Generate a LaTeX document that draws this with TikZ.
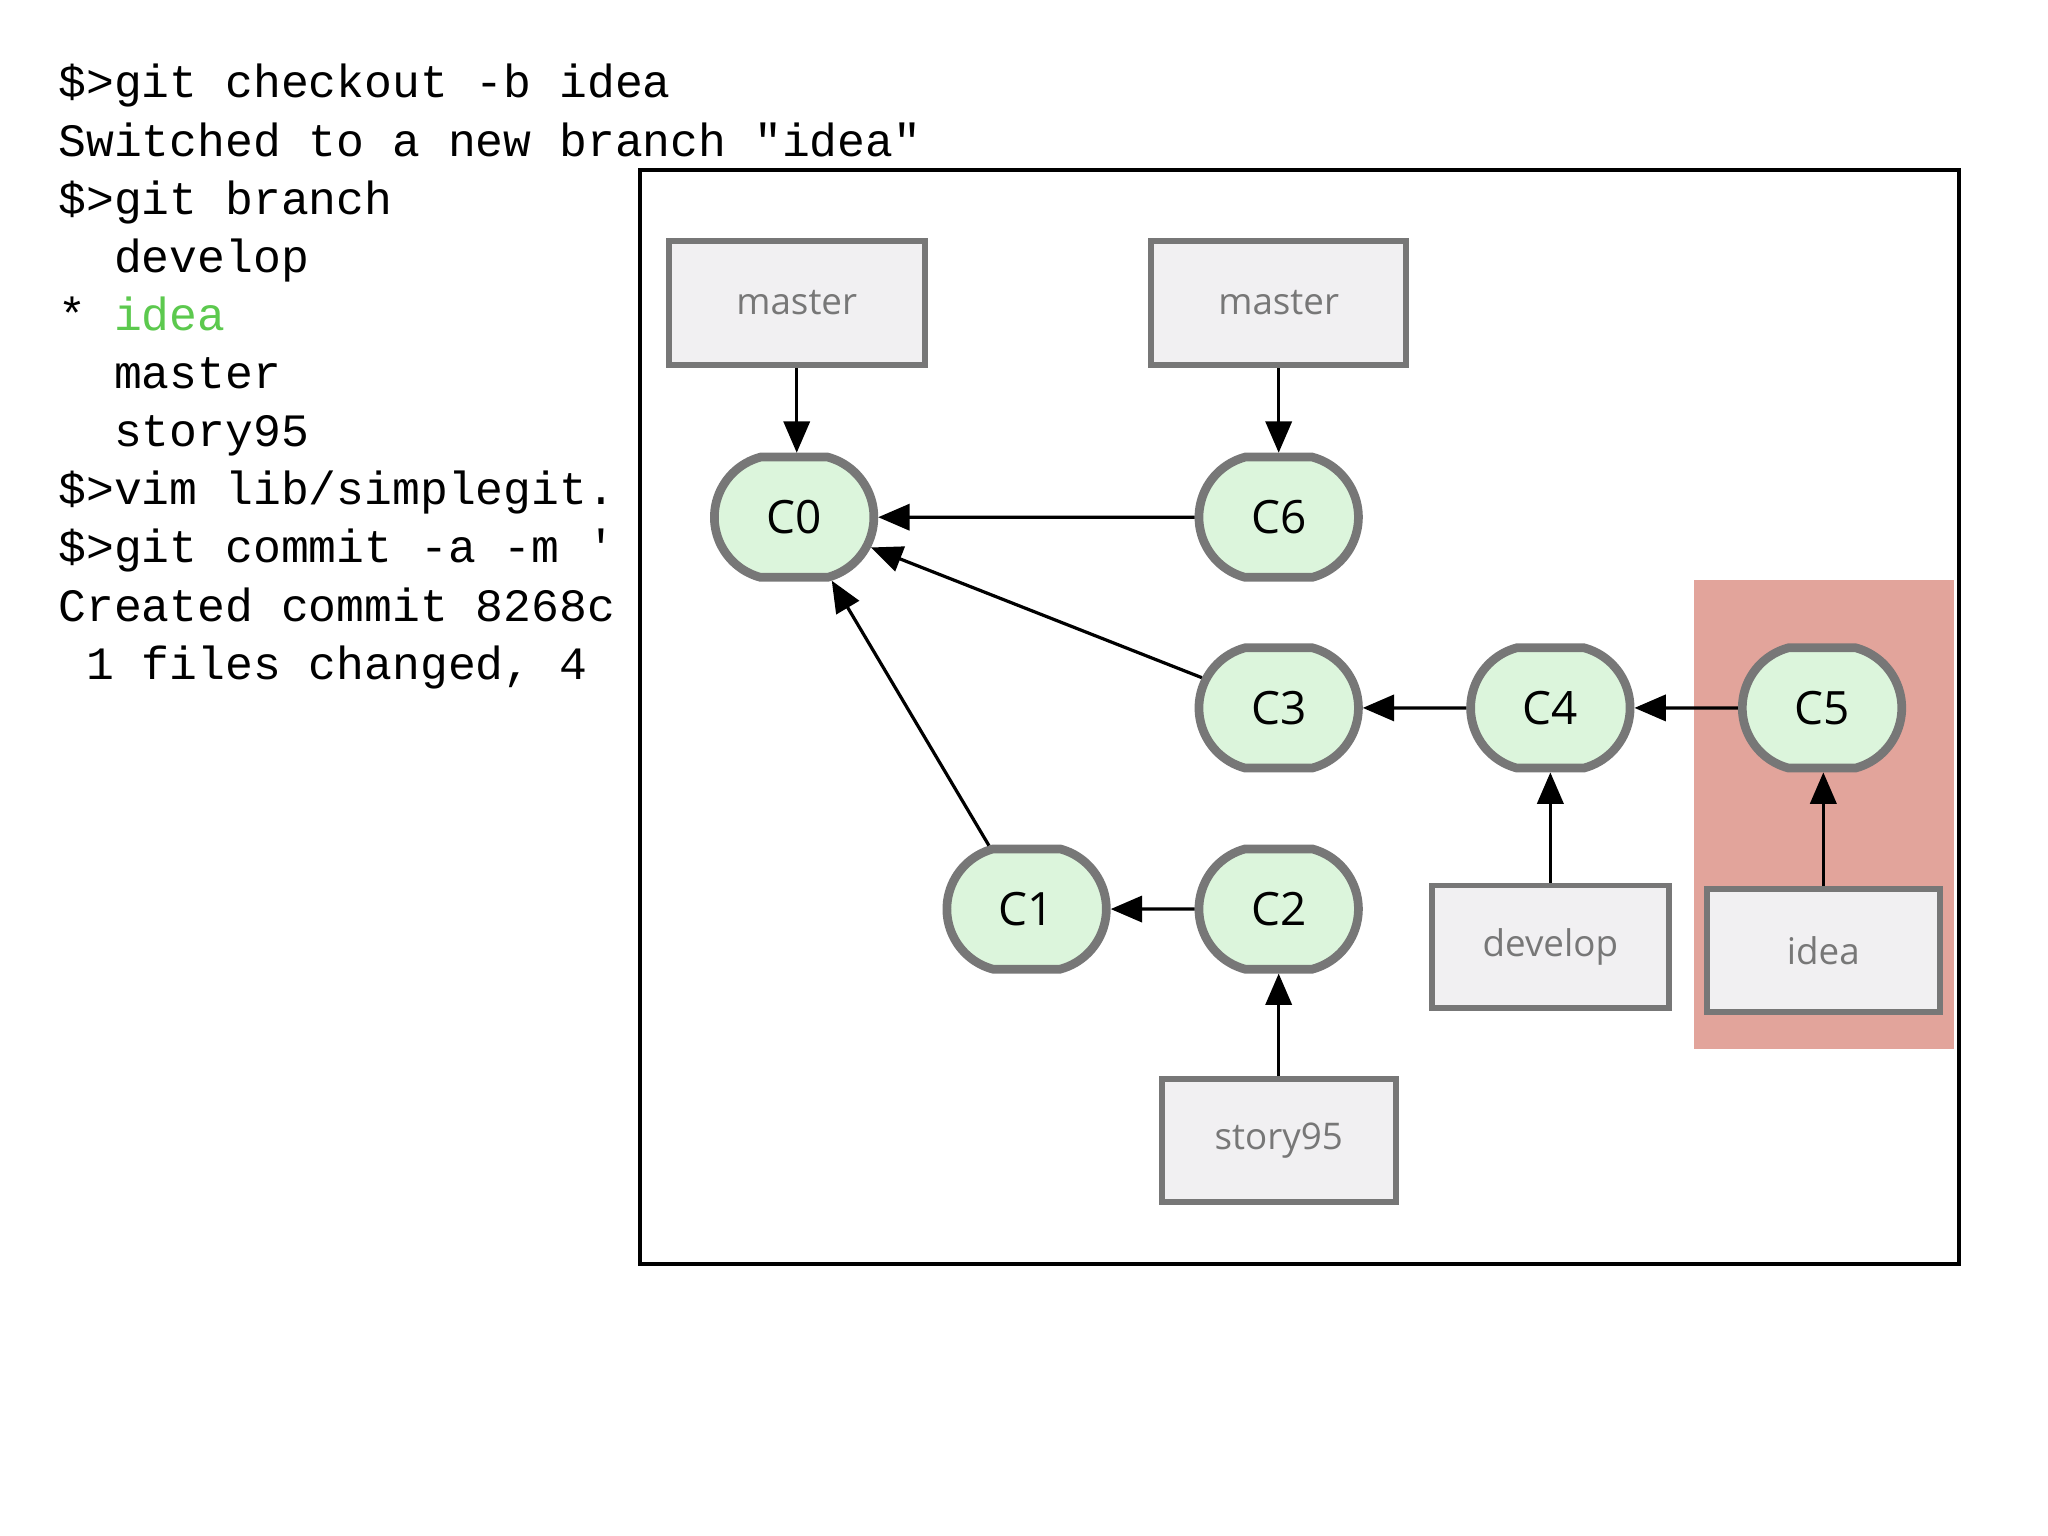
\documentclass[tikz,border=0pt]{standalone}
\usepackage{fontspec}
\setmainfont{Open Sans}
\newfontfamily\mono{Liberation Mono}
\usetikzlibrary{arrows.meta,shapes.misc}
\definecolor{cfill}{HTML}{DCF5DC}
\definecolor{bord}{HTML}{777777}
\definecolor{lfill}{HTML}{F1F0F2}
\definecolor{hl}{HTML}{E2A49B}
\definecolor{gr}{HTML}{5CC94E}
\begin{document}
\begin{tikzpicture}[x=0.01cm,y=-0.01cm,
  commit/.style={rounded rectangle, rounded rectangle arc length=150, draw=bord, line width=1.9pt, fill=cfill, minimum width=1.22cm, minimum height=0.92cm, font=\fontsize{10}{10}\selectfont, inner sep=0pt},
  lab/.style={rectangle, draw=bord, line width=1.3pt, fill=lfill, text=bord, font=\fontsize{8}{8}\selectfont, inner sep=0pt},
  term/.style={anchor=base west, font=\mono\fontsize{10.1}{12}\selectfont, inner sep=0pt},
  arr/.style={-{Triangle[length=0.24cm,width=0.2cm]}, line width=0.7pt}]
\useasboundingbox (0,0) rectangle (1568,1176);
\fill[white] (0,0) rectangle (1568,1176);
\node[term] (t1) at (44,75) {\$>git checkout -b idea};
\node[term] (t2) at (44,119.5) {Switched to a new branch "idea"};
\node[term] (t3) at (44,164) {\$>git branch};
\node[term] (t4) at (44,208.5) {\ \ develop};
\node[term] (t5) at (44,253) {* \textcolor{gr}{idea}};
\node[term] (t6) at (44,297.5) {\ \ master};
\node[term] (t7) at (44,342) {\ \ story95};
\node[term] (t8) at (44,386.5) {\$>vim lib/simplegit.};
\node[term] (t9) at (44,431) {\$>git commit -a -m '};
\node[term] (t10) at (44,475.5) {Created commit 8268c};
\node[term] (t11) at (44,520) {\ 1 files changed, 4};
\draw[line width=0.8pt, fill=white] (490,130) rectangle (1500,968);
\fill[hl] (1297,444) rectangle (1496,803);
\node[lab, minimum width=1.96cm, minimum height=0.95cm] (m1) at (610,232) {master};
\node[lab, minimum width=1.95cm, minimum height=0.95cm] (m2) at (979,232) {master};
\node[lab, minimum width=1.81cm, minimum height=0.94cm] (dev) at (1187,725) {develop};
\node[lab, minimum width=1.78cm, minimum height=0.94cm] (idea) at (1396,728) {idea};
\node[lab, minimum width=1.79cm, minimum height=0.94cm] (st) at (979,873) {story95};
\node[commit] (c0) at (608,396) {C0};
\node[commit] (c6) at (979,396) {C6};
\node[commit] (c3) at (979,542) {C3};
\node[commit] (c4) at (1187,542) {C4};
\node[commit] (c5) at (1395,542) {C5};
\node[commit] (c1) at (786,696) {C1};
\node[commit] (c2) at (979,696) {C2};
\draw[arr] (m1) -- (m1 |- c0.north);
\draw[arr] (m2) -- (m2 |- c6.north);
\draw[arr] (c6) -- (c0);
\draw[arr] (c3) -- (c0);
\draw[arr] (c1) -- (c0);
\draw[arr] (c4) -- (c3);
\draw[arr] (c5) -- (c4);
\draw[arr] (c2) -- (c1);
\draw[arr] (dev) -- (dev |- c4.south);
\draw[arr] (idea) -- (idea |- c5.south);
\draw[arr] (st) -- (st |- c2.south);
\end{tikzpicture}
\end{document}
